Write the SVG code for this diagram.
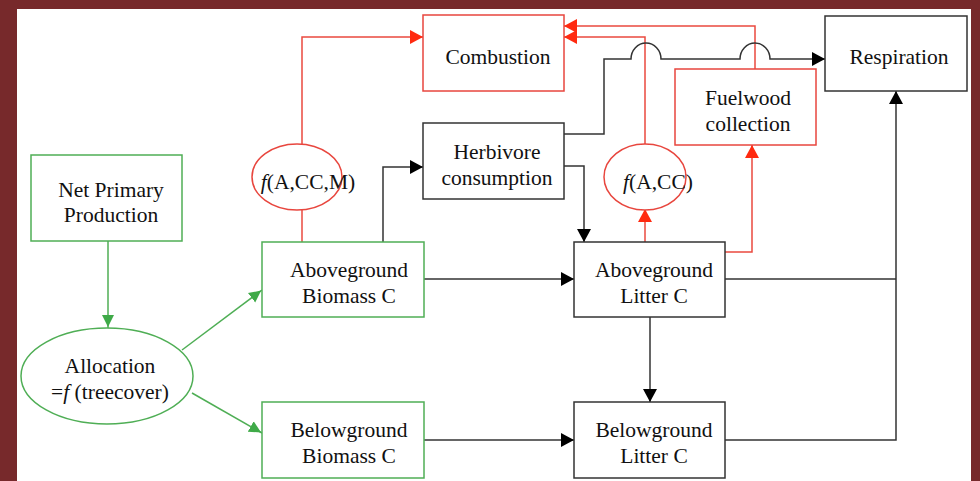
<svg xmlns="http://www.w3.org/2000/svg" width="980" height="481" viewBox="0 0 980 481">
<style>
.t{font-family:"Liberation Serif","Times New Roman",serif;font-size:21.5px;fill:#111;text-anchor:middle}
.bk{fill:#fff;stroke:#333;stroke-width:1.5}
.rd{fill:#fff;stroke:#e8463e;stroke-width:1.5}
.gr{fill:#fff;stroke:#4fae55;stroke-width:1.5}
.lk{fill:none;stroke:#333;stroke-width:1.5}
.lr{fill:none;stroke:#ea4a3f;stroke-width:1.5}
.lg{fill:none;stroke:#4fae55;stroke-width:1.5}
</style>
<defs>
<marker id="ak" markerUnits="userSpaceOnUse" markerWidth="14" markerHeight="14" refX="13" refY="7" orient="auto"><path d="M0,0 L13,7 L0,14 z" fill="#000"/></marker>
<marker id="ar" markerUnits="userSpaceOnUse" markerWidth="14" markerHeight="14" refX="13" refY="7" orient="auto"><path d="M0,0 L13,7 L0,14 z" fill="#ff2a10"/></marker>
<marker id="ag" markerUnits="userSpaceOnUse" markerWidth="14" markerHeight="14" refX="13" refY="7" orient="auto"><path d="M0,1 L12,7 L0,13 z" fill="#3faa48"/></marker>
</defs>
<rect x="0" y="0" width="980" height="481" fill="#77292b"/>
<rect x="17" y="9" width="954" height="472" fill="#fff"/>

<g id="connectors">
<path class="lg" d="M108,241 L108,328" marker-end="url(#ag)"/>
<path class="lg" d="M182,350 L262,290" marker-end="url(#ag)"/>
<path class="lg" d="M192,393 L262,433" marker-end="url(#ag)"/>
<path class="lr" d="M302,242 L302,209"/>
<path class="lr" d="M302,144 L302,37 L423,37" marker-end="url(#ar)"/>
<path class="lr" d="M645,144 L645,37 L564,37" marker-end="url(#ar)"/>
<path class="lr" d="M755,69 L755,26 L564,26" marker-end="url(#ar)"/>
<path class="lr" d="M645,242 L645,209" marker-end="url(#ar)"/>
<path class="lr" d="M725,252 L752,252 L752,145" marker-end="url(#ar)"/>
<path class="lk" d="M383,242 L383,167 L423,167" marker-end="url(#ak)"/>
<path class="lk" d="M564,166 L584,166 L584,242" marker-end="url(#ak)"/>
<path class="lk" d="M564,134 L604,134 L604,59 L631,59 A15,16 0 0 1 661,59 L740,59 A15,16 0 0 1 770,59 L825,59" marker-end="url(#ak)"/>
<path class="lk" d="M424,279 L574,279" marker-end="url(#ak)"/>
<path class="lk" d="M424,440 L574,440" marker-end="url(#ak)"/>
<path class="lk" d="M650,317 L650,402" marker-end="url(#ak)"/>
<path class="lk" d="M725,279 L896,279"/>
<path class="lk" d="M725,440 L896,440 L896,91" marker-end="url(#ak)"/>
</g>

<g id="combustion"><rect class="rd" x="423" y="15" width="141" height="76"/><text class="t" x="498" y="64">Combustion</text></g>
<g id="respiration"><rect class="bk" x="825" y="16" width="142" height="75"/><text class="t" x="899" y="64">Respiration</text></g>
<g id="fuelwood"><rect class="rd" x="675" y="69" width="141" height="76"/><text class="t" x="748" y="105">Fuelwood</text><text class="t" x="748" y="131">collection</text></g>
<g id="herbivore"><rect class="bk" x="423" y="123" width="141" height="76"/><text class="t" x="497" y="159">Herbivore</text><text class="t" x="497" y="185">consumption</text></g>
<g id="f-acm"><ellipse class="rd" cx="297" cy="177" rx="45" ry="33" fill="none"/><text class="t" x="308" y="189"><tspan font-style="italic">f</tspan>(A,CC,M)</text></g>
<g id="f-acc"><ellipse class="rd" cx="645" cy="177" rx="41" ry="33" fill="none"/><text class="t" x="658" y="189"><tspan font-style="italic">f</tspan>(A,CC)</text></g>
<g id="npp"><rect class="gr" x="31" y="155" width="151" height="86"/><text class="t" x="111" y="197">Net Primary</text><text class="t" x="111" y="222">Production</text></g>
<g id="allocation"><ellipse class="gr" cx="107" cy="376" rx="86" ry="48"/><text class="t" x="110" y="373">Allocation</text><text class="t" x="110" y="399">=<tspan font-style="italic">f</tspan> (treecover)</text></g>
<g id="ag-biomass"><rect class="gr" x="262" y="242" width="162" height="75"/><text class="t" x="349" y="277">Aboveground</text><text class="t" x="349" y="303">Biomass C</text></g>
<g id="bg-biomass"><rect class="gr" x="262" y="402" width="162" height="76"/><text class="t" x="349" y="437">Belowground</text><text class="t" x="349" y="463">Biomass C</text></g>
<g id="ag-litter"><rect class="bk" x="574" y="242" width="151" height="75"/><text class="t" x="654" y="277">Aboveground</text><text class="t" x="654" y="303">Litter C</text></g>
<g id="bg-litter"><rect class="bk" x="574" y="402" width="151" height="76"/><text class="t" x="654" y="437">Belowground</text><text class="t" x="654" y="463">Litter C</text></g>
</svg>
